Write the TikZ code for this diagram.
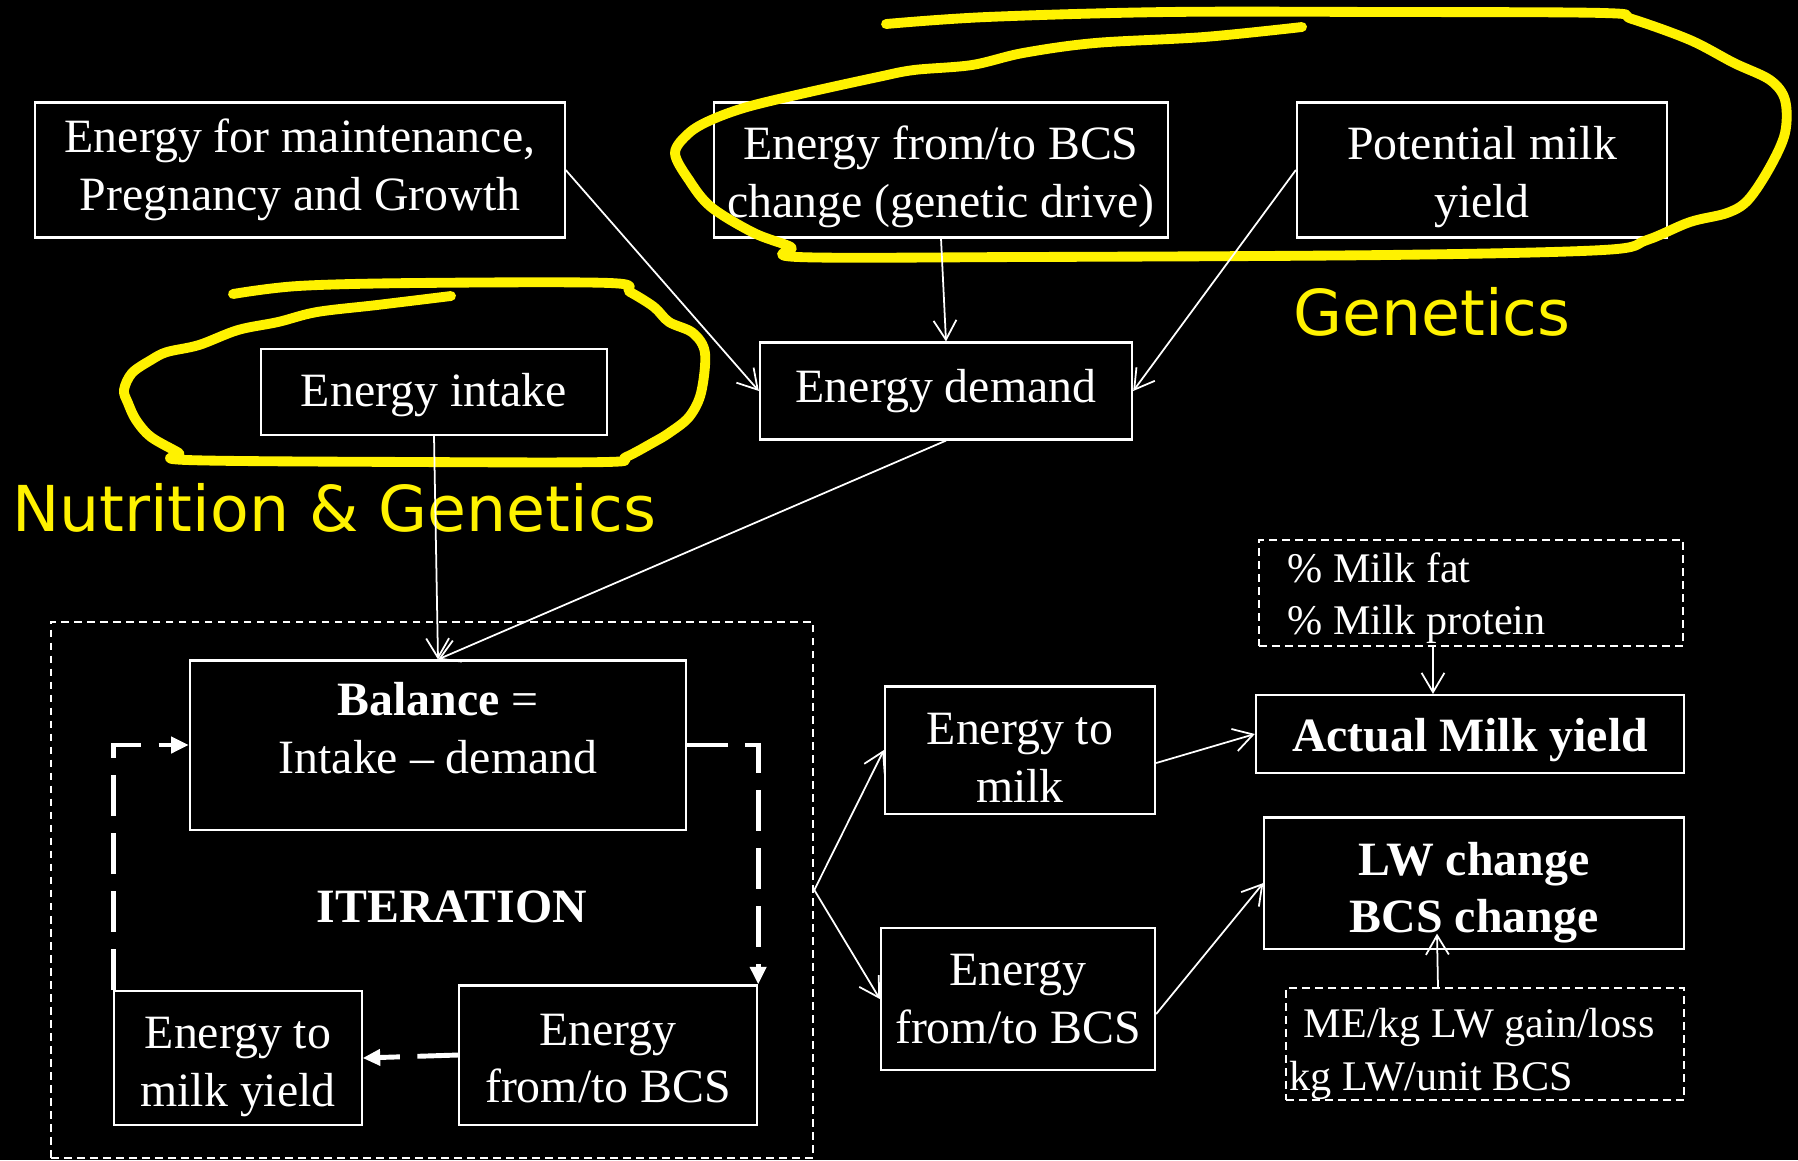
\documentclass[tikz,border=0pt]{standalone}
\usepackage{fontspec}
\setmainfont{Liberation Serif}
\newfontfamily\tagfont{DejaVu Sans}
\usetikzlibrary{arrows.meta}
% taller first line, so the text sits a bit lower in its box
\newcommand{\lowerby}[1]{\rule{0pt}{#1}}

\begin{document}
\begin{tikzpicture}[x=0.01cm, y=-0.01cm,
  box/.style={draw=white, line width=0.6pt, text=white, align=center, inner sep=0pt, font=\fontsize{13.6}{16.4}\selectfont},
  dbox/.style={draw=white, line width=0.6pt, dash pattern=on 2.2pt off 1.5pt, inner sep=0pt},
  note/.style={text=white, align=left, inner sep=0pt, anchor=west, font=\fontsize{12}{15}\selectfont},
  link/.style={draw=white, line width=0.5pt, -{Straight Barb[length=5.5pt,width=6.5pt]}},
  iterline/.style={draw=white, line width=1.4pt, dash pattern=on 11.5pt off 5pt, -{Triangle[length=5pt,width=4.5pt]}},
  marker/.style={draw=yellow, line width=2.8pt, line cap=round, line join=round},
  tag/.style={text=yellow, inner sep=0pt, font=\tagfont\fontsize{18}{22}\selectfont}]

\fill[black] (0,0) rectangle (1798,1160);
\useasboundingbox (0,0) rectangle (1798,1160);

% inputs
\node[box, minimum width=5.29cm, minimum height=1.35cm] (maint) at (300,170) {Energy for maintenance,\\Pregnancy and Growth};
\node[box, minimum width=4.53cm, minimum height=1.35cm] (bcsgen) at (941,170) {\lowerby{13.3pt}Energy from/to BCS\\change (genetic drive)};
\node[box, minimum width=3.70cm, minimum height=1.35cm] (potential) at (1482,170) {\lowerby{13.3pt}Potential milk\\yield};
\node[box, minimum width=3.46cm, minimum height=0.86cm] (intake) at (434,392) {\lowerby{11.3pt}Energy intake};
\node[box, minimum width=3.72cm, minimum height=0.97cm] (demand) at (946,391) {Energy demand};

% iteration block
\node[dbox, minimum width=7.62cm, minimum height=5.36cm] (frame) at (432,890) {};
\node[box, minimum width=4.96cm, minimum height=1.69cm] (bal) at (438,745) {};
\node[box, draw=none] (baltext) at (438,728) {\textbf{Balance} =\\Intake -- demand};
\node[box, draw=none, font=\bfseries\fontsize{13.6}{16.4}\selectfont] (itertext) at (452,907) {ITERATION};
\node[box, minimum width=2.47cm, minimum height=1.34cm] (inmilk) at (238,1058) {\lowerby{13.9pt}Energy to\\milk yield};
\node[box, minimum width=2.98cm, minimum height=1.39cm] (inbcs) at (608,1055) {\lowerby{11pt}Energy\\from/to BCS};

% outputs
\node[box, minimum width=2.70cm, minimum height=1.27cm] (milk) at (1020,750) {\lowerby{13.3pt}Energy to\\milk};
\node[box, minimum width=2.74cm, minimum height=1.42cm] (bcs) at (1018,999) {Energy\\from/to BCS};
\node[dbox, minimum width=4.24cm, minimum height=1.06cm] (pct) at (1471,593) {};
\node[note] (pcttext) at (1287,598) {\% Milk fat\\\% Milk protein};
\node[box, minimum width=4.28cm, minimum height=0.78cm, font=\bfseries\fontsize{13.6}{16.4}\selectfont] (actual) at (1470,734) {\lowerby{12.7pt}Actual Milk yield};
\node[box, minimum width=4.19cm, minimum height=1.31cm, font=\bfseries\fontsize{13.6}{16.4}\selectfont] (lw) at (1474,883) {\lowerby{15pt}LW change\\BCS change};
\node[dbox, minimum width=3.98cm, minimum height=1.12cm] (me) at (1485,1044) {};
\node[note] (metext) at (1289,1054) {\hspace{4pt}ME/kg LW gain/loss\\kg LW/unit BCS};

% freehand marks
\draw[marker] plot[smooth, tension=0.55] coordinates {(886,24) (987,17) (1168,12) (1386,12) (1603,13) (1632,19) (1690,40) (1734,63) (1770,80) (1785,100) (1785,133) (1770,167) (1748,200) (1727,213) (1690,222) (1647,240) (1603,250) (1386,255) (1023,257) (798,257) (791,247) (754,233) (711,207) (689,180) (675,153) (689,133) (711,120) (747,107) (805,93) (878,77) (914,70) (972,65) (1023,53) (1095,43) (1204,37) (1302,27)};
\draw[marker] plot[smooth, tension=0.55] coordinates {(233,294) (298,286) (416,283) (610,283) (630,292) (654,307) (669,322) (693,333) (705,353) (701,393) (689,417) (669,433) (654,442) (626,457) (606,462) (416,462) (187,460) (179,453) (151,437) (136,420) (128,403) (124,390) (132,373) (151,360) (167,352) (199,345) (238,330) (278,322) (317,312) (377,305) (451,296)};
\node[tag] (gen) at (1432,312) {Genetics};
\node[tag] (nutgen) at (334,508) {Nutrition \& Genetics};

% connectors
\draw[link] (maint.east) -- (demand.west);
\draw[link] (bcsgen.south) -- (demand.north);
\draw[link] (potential.west) -- (demand.east);
\draw[link] (intake.south) -- (bal.north);
\draw[link] (demand.south) -- (bal.north);
\draw[iterline] (inmilk.north west) -- (inmilk.north west |- bal.west) -- (bal.west);
\draw[iterline] (bal.east) -- (inbcs.north east |- bal.east) -- (inbcs.north east);
\draw[iterline] (inbcs.west) -- (inmilk.east);
\draw[link] (frame.east) -- (milk.west);
\draw[link] (frame.east) -- (bcs.west);
\draw[link] ([yshift=-0.13cm]milk.east) -- (actual.west);
\draw[link] ([yshift=-0.15cm]bcs.east) -- (lw.west);
\draw[link] ([xshift=-0.38cm]pct.south) -- ([xshift=-0.37cm]actual.north);
\draw[link] ([xshift=-0.47cm]me.north) -- ([xshift=-0.37cm,yshift=0.16cm]lw.south);
\end{tikzpicture}
\end{document}
